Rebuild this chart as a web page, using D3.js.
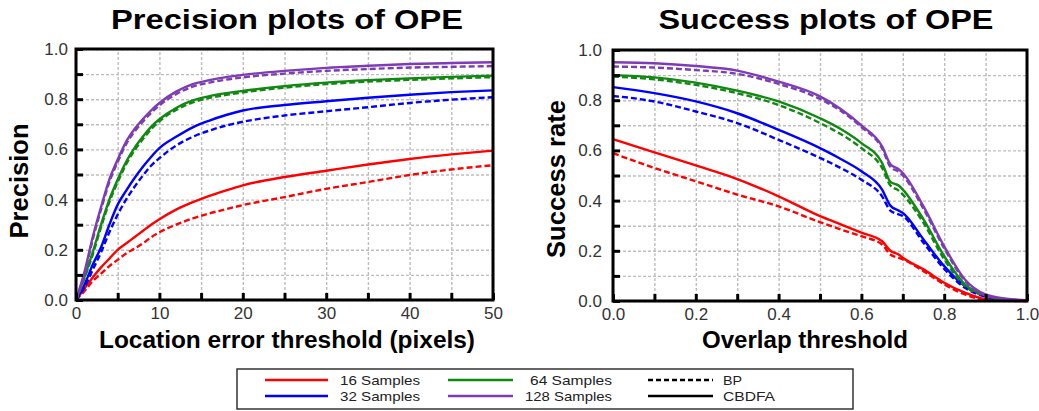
<!DOCTYPE html>
<html>
<head>
<meta charset="utf-8">
<script src="https://cdn.jsdelivr.net/npm/d3@7"></script>
<style>
  body { margin: 0; background: #fff; }
  svg { display: block; font-family: "Liberation Sans", Arial, sans-serif; }
</style>
</head>
<body>
<div id="chart"></div>
<script>
// ---- data ----
const sampleNames = ["16 Samples", "32 Samples", "64 Samples", "128 Samples"];
const methodNames = ["BP", "CBDFA"];

// precision plot: location error threshold (pixels)
const precX = [0, 1, 2, 3, 4, 5, 6, 7, 8, 9, 10, 12, 14, 16, 18, 20, 25, 30, 35, 40, 45, 50];
const prec16cb  = [0, 0.045, 0.09, 0.13, 0.165, 0.2, 0.225, 0.25, 0.275, 0.3, 0.322, 0.36, 0.39, 0.415, 0.437, 0.457, 0.49, 0.515, 0.54, 0.562, 0.58, 0.595];
const prec16bp  = [0, 0.035, 0.075, 0.105, 0.135, 0.16, 0.185, 0.205, 0.225, 0.25, 0.27, 0.3, 0.325, 0.345, 0.362, 0.378, 0.41, 0.443, 0.47, 0.498, 0.52, 0.537];
const prec32cb  = [0, 0.06, 0.14, 0.21, 0.3, 0.38, 0.435, 0.485, 0.53, 0.57, 0.605, 0.65, 0.688, 0.715, 0.737, 0.755, 0.777, 0.792, 0.806, 0.818, 0.828, 0.835];
const prec32bp  = [0, 0.05, 0.12, 0.19, 0.27, 0.34, 0.4, 0.45, 0.495, 0.535, 0.565, 0.615, 0.65, 0.675, 0.695, 0.71, 0.735, 0.752, 0.768, 0.785, 0.798, 0.808];
const prec64cb  = [0, 0.09, 0.19, 0.3, 0.4, 0.48, 0.55, 0.605, 0.65, 0.69, 0.72, 0.765, 0.795, 0.812, 0.824, 0.833, 0.852, 0.866, 0.876, 0.883, 0.889, 0.894];
const prec64bp  = [0, 0.085, 0.18, 0.29, 0.39, 0.47, 0.54, 0.595, 0.64, 0.68, 0.712, 0.757, 0.787, 0.805, 0.817, 0.827, 0.846, 0.86, 0.87, 0.877, 0.883, 0.888];
const prec128cb = [0, 0.11, 0.25, 0.37, 0.48, 0.56, 0.63, 0.68, 0.72, 0.755, 0.785, 0.83, 0.86, 0.876, 0.888, 0.897, 0.913, 0.925, 0.933, 0.94, 0.944, 0.947];
const prec128bp = [0, 0.1, 0.24, 0.36, 0.47, 0.55, 0.62, 0.67, 0.71, 0.745, 0.775, 0.82, 0.85, 0.866, 0.878, 0.887, 0.902, 0.913, 0.92, 0.926, 0.929, 0.932];

// success plot: overlap threshold
const succX = [0, 0.1, 0.2, 0.3, 0.4, 0.5, 0.55, 0.6, 0.65, 0.67, 0.69, 0.7, 0.75, 0.8, 0.85, 0.9, 0.95, 1.0];
const succ16cb  = [0.645, 0.592, 0.54, 0.486, 0.417, 0.338, 0.305, 0.272, 0.238, 0.2, 0.185, 0.172, 0.126, 0.073, 0.033, 0.007, 0.001, 0];
const succ16bp  = [0.589, 0.53, 0.477, 0.424, 0.377, 0.314, 0.285, 0.258, 0.225, 0.185, 0.172, 0.166, 0.119, 0.066, 0.026, 0.004, 0.001, 0];
const succ32cb  = [0.852, 0.828, 0.795, 0.748, 0.682, 0.609, 0.566, 0.517, 0.444, 0.38, 0.36, 0.351, 0.245, 0.139, 0.06, 0.02, 0.005, 0.001];
const succ32bp  = [0.817, 0.795, 0.755, 0.709, 0.642, 0.57, 0.53, 0.483, 0.417, 0.36, 0.345, 0.338, 0.232, 0.128, 0.053, 0.017, 0.004, 0.001];
const succ64cb  = [0.9, 0.891, 0.87, 0.838, 0.795, 0.728, 0.685, 0.629, 0.55, 0.475, 0.46, 0.444, 0.325, 0.179, 0.066, 0.022, 0.006, 0.002];
const succ64bp  = [0.894, 0.883, 0.861, 0.828, 0.781, 0.709, 0.665, 0.609, 0.53, 0.46, 0.44, 0.424, 0.311, 0.166, 0.06, 0.02, 0.005, 0.001];
const succ128cb = [0.951, 0.947, 0.936, 0.918, 0.874, 0.815, 0.765, 0.7, 0.616, 0.545, 0.525, 0.51, 0.377, 0.218, 0.086, 0.026, 0.009, 0.003];
const succ128bp = [0.934, 0.93, 0.92, 0.905, 0.865, 0.805, 0.758, 0.693, 0.608, 0.535, 0.515, 0.5, 0.367, 0.21, 0.08, 0.022, 0.007, 0.002];

const yTickLabels = ["0.0", "0.2", "0.4", "0.6", "0.8", "1.0"];

// ---- styling ----
const W = 1039, H = 411;
const colors = { "16 Samples": "#ff0000", "32 Samples": "#0000ff", "64 Samples": "#118811", "128 Samples": "#7d3cb5" };
const dashBP = "6,3";

const svg = d3.select("#chart").append("svg")
  .attr("width", W)
  .attr("height", H);

function drawPanel(opt) {
  const { left, right, top, bottom, xDomain, xMinor, xLabels, xFmt, series } = opt;
  const x = d3.scaleLinear().domain(xDomain).range([left, right]);
  const y = d3.scaleLinear().domain([0, 1]).range([bottom, top]);
  const g = svg.append("g");
  const yMinor = d3.range(0, 1.0001, 0.1);

  // dashed grid
  g.append("g")
    .attr("transform", `translate(0,${bottom})`)
    .call(d3.axisBottom(x).tickValues(xMinor).tickSize(-(bottom - top)).tickFormat(""))
    .call(a => a.select(".domain").remove())
    .selectAll("line").attr("stroke", "#bdbdbd").attr("stroke-width", 1.4).attr("stroke-dasharray", "3,2");
  g.append("g")
    .attr("transform", `translate(${left},0)`)
    .call(d3.axisLeft(y).tickValues(yMinor).tickSize(-(right - left)).tickFormat(""))
    .call(a => a.select(".domain").remove())
    .selectAll("line").attr("stroke", "#bdbdbd").attr("stroke-width", 1.4).attr("stroke-dasharray", "3,2");

  // curves
  const line = d3.line().curve(d3.curveMonotoneX).x(d => x(d[0])).y(d => y(d[1]));
  series.forEach(s => {
    g.append("path")
      .datum(s.xs.map((v, i) => [v, s.ys[i]]))
      .attr("fill", "none")
      .attr("stroke", colors[s.name])
      .attr("stroke-width", 2.4)
      .attr("stroke-dasharray", s.method === "BP" ? dashBP : null)
      .attr("d", line);
  });

  // frame
  g.append("rect")
    .attr("x", left).attr("y", top)
    .attr("width", right - left).attr("height", bottom - top)
    .attr("fill", "none").attr("stroke", "#000").attr("stroke-width", 3);

  // inward ticks
  g.append("g")
    .attr("transform", `translate(0,${bottom})`)
    .call(d3.axisBottom(x).tickValues(xMinor).tickSize(-7).tickFormat(""))
    .call(a => a.select(".domain").remove())
    .selectAll("line").attr("stroke", "#000").attr("stroke-width", 3);
  g.append("g")
    .attr("transform", `translate(${left},0)`)
    .call(d3.axisLeft(y).tickValues(yMinor).tickSize(-7).tickFormat(""))
    .call(a => a.select(".domain").remove())
    .selectAll("line").attr("stroke", "#000").attr("stroke-width", 3);

  // tick labels
  const xa = g.append("g")
    .attr("transform", `translate(0,${bottom})`)
    .call(d3.axisBottom(x).tickValues(xLabels).tickSize(0).tickPadding(7).tickFormat(xFmt));
  xa.select(".domain").remove();
  xa.selectAll("text").attr("font-size", 17).attr("fill", "#333").attr("font-family", "Liberation Sans, Arial, sans-serif");
  const ya = g.append("g")
    .attr("transform", `translate(${left},0)`)
    .call(d3.axisLeft(y).tickValues(yTickLabels.map(Number)).tickSize(0).tickPadding(opt.yPad).tickFormat(d3.format(".1f")));
  ya.select(".domain").remove();
  ya.selectAll("text").attr("font-size", 17).attr("fill", "#333").attr("font-family", "Liberation Sans, Arial, sans-serif");

  // title and axis titles
  g.append("text")
    .attr("x", opt.titleX).attr("y", 29)
    .attr("text-anchor", "middle")
    .attr("font-size", 27).attr("font-weight", "bold")
    .attr("textLength", opt.titleLen).attr("lengthAdjust", "spacingAndGlyphs")
    .text(opt.title);
  g.append("text")
    .attr("x", opt.xTitleX).attr("y", 348)
    .attr("text-anchor", "middle")
    .attr("font-size", 23).attr("font-weight", "bold")
    .attr("textLength", opt.xTitleLen).attr("lengthAdjust", "spacingAndGlyphs")
    .text(opt.xTitle);
  g.append("text")
    .attr("transform", `translate(${opt.yTitleX},${opt.yTitleY}) rotate(-90)`)
    .attr("text-anchor", "middle")
    .attr("font-size", 26).attr("font-weight", "bold")
    .attr("textLength", opt.yTitleLen).attr("lengthAdjust", "spacingAndGlyphs")
    .text(opt.yTitle);
}

const precSeries = [
  { name: "16 Samples", method: "BP", xs: precX, ys: prec16bp },
  { name: "16 Samples", method: "CBDFA", xs: precX, ys: prec16cb },
  { name: "32 Samples", method: "BP", xs: precX, ys: prec32bp },
  { name: "32 Samples", method: "CBDFA", xs: precX, ys: prec32cb },
  { name: "64 Samples", method: "BP", xs: precX, ys: prec64bp },
  { name: "64 Samples", method: "CBDFA", xs: precX, ys: prec64cb },
  { name: "128 Samples", method: "BP", xs: precX, ys: prec128bp },
  { name: "128 Samples", method: "CBDFA", xs: precX, ys: prec128cb }
];
const succSeries = [
  { name: "16 Samples", method: "BP", xs: succX, ys: succ16bp },
  { name: "16 Samples", method: "CBDFA", xs: succX, ys: succ16cb },
  { name: "32 Samples", method: "BP", xs: succX, ys: succ32bp },
  { name: "32 Samples", method: "CBDFA", xs: succX, ys: succ32cb },
  { name: "64 Samples", method: "BP", xs: succX, ys: succ64bp },
  { name: "64 Samples", method: "CBDFA", xs: succX, ys: succ64cb },
  { name: "128 Samples", method: "BP", xs: succX, ys: succ128bp },
  { name: "128 Samples", method: "CBDFA", xs: succX, ys: succ128cb }
];

drawPanel({
  left: 76, right: 493, top: 49, bottom: 300,
  xDomain: [0, 50], xMinor: d3.range(0, 51, 5), xLabels: [0, 10, 20, 30, 40, 50], xFmt: d3.format("d"),
  yPad: 8, series: precSeries,
  title: "Precision plots of OPE", titleX: 287, titleLen: 352,
  xTitle: "Location error threshold (pixels)", xTitleX: 287, xTitleLen: 376,
  yTitle: "Precision", yTitleX: 28, yTitleY: 181, yTitleLen: 115
});
drawPanel({
  left: 613, right: 1027, top: 50, bottom: 301,
  xDomain: [0, 1], xMinor: d3.range(0, 1.0001, 0.1), xLabels: [0, 0.2, 0.4, 0.6, 0.8, 1.0], xFmt: d3.format(".1f"),
  yPad: 11, series: succSeries,
  title: "Success plots of OPE", titleX: 826, titleLen: 335,
  xTitle: "Overlap threshold", xTitleX: 805, xTitleLen: 206,
  yTitle: "Success rate", yTitleX: 565, yTitleY: 179, yTitleLen: 158
});

// ---- legend ----
const lg = svg.append("g");
lg.append("rect")
  .attr("x", 237).attr("y", 369).attr("width", 616).attr("height", 40)
  .attr("fill", "#fff").attr("stroke", "#333").attr("stroke-width", 1.5);

const legendItems = [
  { label: sampleNames[0], color: colors[sampleNames[0]], dash: null, x1: 265, x2: 328, y: 380, tx: 340, anchor: "start", len: 80 },
  { label: sampleNames[1], color: colors[sampleNames[1]], dash: null, x1: 265, x2: 328, y: 396, tx: 340, anchor: "start", len: 80 },
  { label: sampleNames[2], color: colors[sampleNames[2]], dash: null, x1: 448, x2: 513, y: 380, tx: 612, anchor: "end", len: 82 },
  { label: sampleNames[3], color: colors[sampleNames[3]], dash: null, x1: 448, x2: 513, y: 396, tx: 612, anchor: "end", len: 87 },
  { label: methodNames[0], color: "#000", dash: "5,3", x1: 648, x2: 713, y: 380, tx: 723, anchor: "start", len: 19 },
  { label: methodNames[1], color: "#000", dash: null, x1: 648, x2: 713, y: 396, tx: 723, anchor: "start", len: 52 }
];
legendItems.forEach(d => {
  lg.append("line")
    .attr("x1", d.x1).attr("x2", d.x2).attr("y1", d.y).attr("y2", d.y)
    .attr("stroke", d.color).attr("stroke-width", 2.5)
    .attr("stroke-dasharray", d.dash);
  lg.append("text")
    .attr("x", d.tx).attr("y", d.y + 5)
    .attr("text-anchor", d.anchor)
    .attr("font-size", 13.5).attr("fill", "#222")
    .attr("textLength", d.len).attr("lengthAdjust", "spacingAndGlyphs")
    .text(d.label);
});
</script>
</body>
</html>
